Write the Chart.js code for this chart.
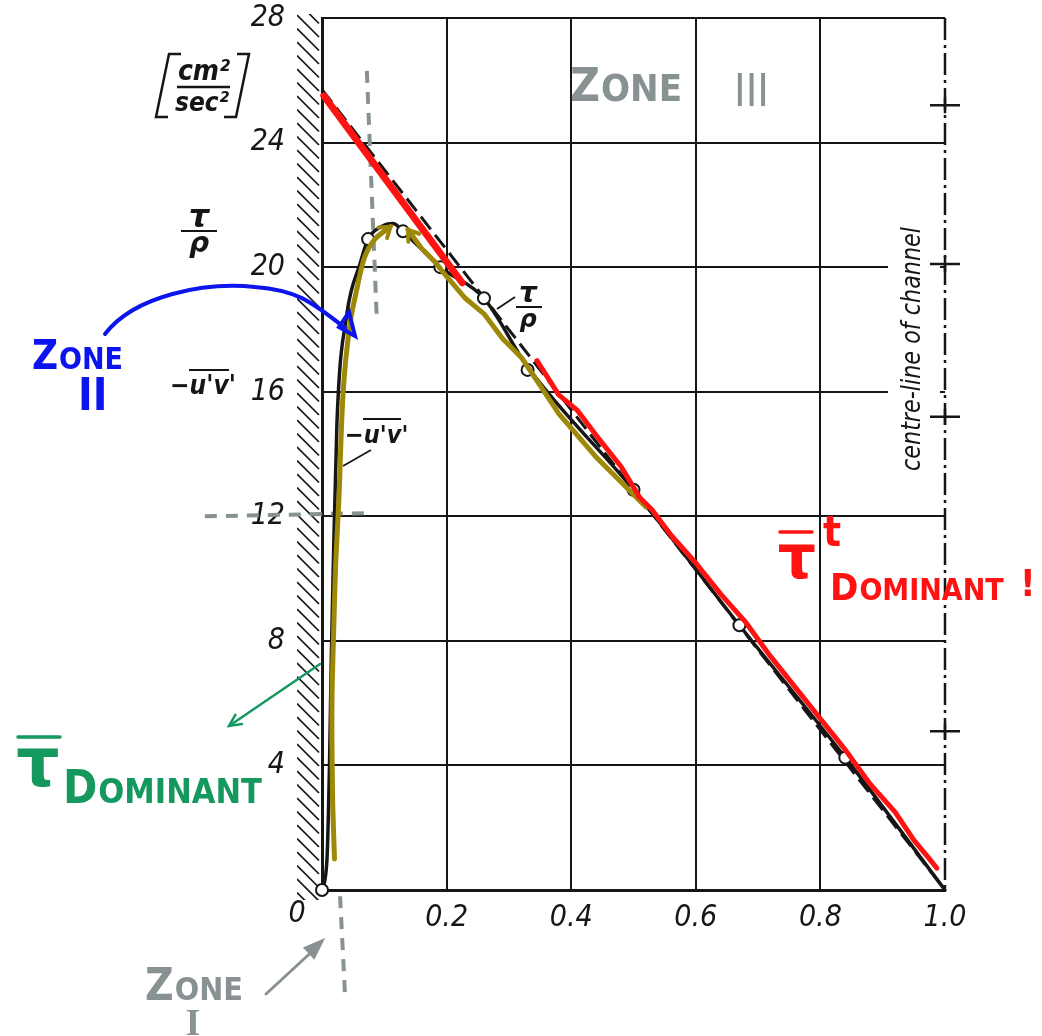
<!DOCTYPE html>
<html>
<head>
<meta charset="utf-8">
<title>Shear stress across the channel</title>
<script src="https://cdn.jsdelivr.net/npm/chart.js@4.4.1/dist/chart.umd.min.js"></script>
<style>
  html, body { margin: 0; padding: 0; background: #fff; }
  #wrap { width: 1042px; height: 1036px; }
</style>
</head>
<body>
<div id="wrap"><canvas id="stressChart" width="1042" height="1036"></canvas></div>
<script>
// --- axis ticks ---
const xTicks = [0, 0.2, 0.4, 0.6, 0.8, 1.0];
const yTicks = [0, 4, 8, 12, 16, 20, 24, 28];

// --- measured points (open circles) ---
const pointsX = [0, 0.074, 0.13, 0.19, 0.26, 0.33, 0.5, 0.67, 0.84];
const pointsY = [0, 20.9, 21.15, 20.0, 19.0, 16.7, 12.85, 8.5, 4.25];

// --- turbulent stress -u'v' ---
const uvX = [0, 0.008, 0.012, 0.015, 0.018, 0.024, 0.04, 0.061, 0.074, 0.095, 0.114, 0.13, 0.19, 0.26, 0.33, 0.5, 0.67, 0.84, 1.0];
const uvY = [0, 1.0, 4.0, 7.5, 10.3, 15.0, 18.5, 20.1, 20.9, 21.3, 21.4, 21.15, 20.0, 19.0, 16.8, 12.85, 8.5, 4.25, 0];

// --- total stress tau/rho (straight line) ---
const tauX = [0, 1.0];
const tauY = [25.7, 0];

// --- hand-drawn markings ---
const redAX = [0.003, 0.225];
const redAY = [25.5, 19.5];
const redBX = [0.345, 0.38, 0.41, 0.44, 0.48, 0.51, 0.53, 0.56, 0.6, 0.64, 0.68, 0.72, 0.76, 0.8, 0.84, 0.88, 0.92, 0.95, 0.975, 0.987];
const redBY = [17.0, 15.9, 15.4, 14.6, 13.6, 12.6, 12.2, 11.4, 10.5, 9.5, 8.6, 7.5, 6.5, 5.5, 4.5, 3.4, 2.5, 1.6, 1.0, 0.7];
const oliveAX = [0.02, 0.017, 0.016, 0.019, 0.022, 0.027, 0.034, 0.045, 0.056, 0.068, 0.085, 0.11];
const oliveAY = [1.0, 3.0, 6.0, 8.5, 10.5, 12.5, 16.0, 18.2, 19.3, 20.3, 20.9, 21.3];
const oliveBX = [0.138, 0.16, 0.18, 0.2, 0.23, 0.26, 0.29, 0.32, 0.35, 0.38, 0.41, 0.44, 0.47, 0.5, 0.52];
const oliveBY = [21.2, 20.6, 20.2, 19.7, 19.0, 18.5, 17.7, 17.1, 16.2, 15.3, 14.6, 13.9, 13.3, 12.7, 12.3];
const greyTopX = [0.072, 0.088];
const greyTopY = [26.3, 18.3];
const greyMidX = [-0.188, 0.069];
const greyMidY = [12.0, 12.1];
const greyLowX = [0.029, 0.037];
const greyLowY = [-0.2, -3.4];

// centre-line cross marks
const crossY = [25.2, 20.1, 15.2, 5.1];

const INK = '#161616';
const RED = '#ff1212';
const OLIVE = '#9d8807';
const GREY = '#889292';
const BLUE = '#0c14ee';
const GREEN = '#14985e';
const NARROW = '"Liberation Sans Narrow", "DejaVu Sans Condensed", sans-serif';

const chartEl = document.getElementById('stressChart');

const toPts = (xs, ys) => xs.map((x, i) => ({ x, y: ys[i] }));

const lineSet = (label, xs, ys, color, width, extra) => Object.assign({
    label,
    data: toPts(xs, ys),
    showLine: true,
    borderColor: color,
    borderWidth: width,
    pointRadius: 0,
    pointHoverRadius: 0,
    fill: false,
    tension: 0,
    clip: false,
    borderCapStyle: 'round',
    borderJoinStyle: 'round'
}, extra || {});

function txt(ctx, s, x, y, font, color, align) {
    ctx.font = font;
    ctx.fillStyle = color;
    ctx.textAlign = align || 'left';
    ctx.textBaseline = 'alphabetic';
    ctx.fillText(s, x, y);
    return ctx.measureText(s).width;
}

// hand lettering: first letter tall, the rest smaller
function caps(ctx, s, x, y, big, small, color) {
    const w = txt(ctx, s[0], x, y, `bold ${big}px ${NARROW}`, color);
    return w + txt(ctx, s.slice(1), x + w + 1, y, `bold ${small}px ${NARROW}`, color);
}

function head(ctx, x1, y1, x2, y2, len, spread, filled) {
    const a = Math.atan2(y2 - y1, x2 - x1);
    ctx.beginPath();
    ctx.moveTo(x2 - len * Math.cos(a - spread), y2 - len * Math.sin(a - spread));
    ctx.lineTo(x2, y2);
    ctx.lineTo(x2 - len * Math.cos(a + spread), y2 - len * Math.sin(a + spread));
    if (filled) { ctx.closePath(); ctx.fill(); }
    ctx.stroke();
}

function overline(ctx, x1, x2, y) {
    ctx.beginPath();
    ctx.moveTo(x1, y);
    ctx.lineTo(x2, y);
    ctx.stroke();
}

const decor = {
    id: 'decor',
    beforeDatasetsDraw(chart) {
        const { ctx, chartArea: a, scales: { x, y } } = chart;
        ctx.save();

        // hatched channel wall left of the y axis
        ctx.save();
        ctx.beginPath();
        ctx.rect(a.left - 25, a.top - 4, 24, a.bottom - a.top + 14);
        ctx.clip();
        ctx.strokeStyle = INK;
        ctx.lineWidth = 1.7;
        for (let yy = a.top - 30; yy < a.bottom + 20; yy += 13.5) {
            ctx.beginPath();
            ctx.moveTo(a.left - 25, yy);
            ctx.lineTo(a.left - 3, yy + 22);
            ctx.stroke();
        }
        ctx.restore();

        // gap in the grid for the centre-line caption
        ctx.fillStyle = '#fff';
        ctx.fillRect(888, 222, 52, 256);

        // centre-line of channel, dash-dot with cross marks
        const cx = x.getPixelForValue(1);
        ctx.strokeStyle = INK;
        ctx.lineWidth = 2.5;
        ctx.setLineDash([22, 5, 3, 5]);
        ctx.beginPath();
        ctx.moveTo(cx, a.top);
        ctx.lineTo(cx, a.bottom);
        ctx.stroke();
        ctx.setLineDash([]);
        crossY.forEach(v => {
            const py = y.getPixelForValue(v);
            ctx.beginPath();
            ctx.moveTo(cx - 15, py);
            ctx.lineTo(cx + 15, py);
            ctx.moveTo(cx, py - 8);
            ctx.lineTo(cx, py + 8);
            ctx.stroke();
        });
        ctx.restore();
    },
    afterDraw(chart) {
        const { ctx, scales: { x, y } } = chart;
        ctx.save();

        // origin label
        txt(ctx, '0', 297, 922, `italic 30px ${NARROW}`, INK, 'center');

        // unit bracket [cm²/sec²]
        ctx.strokeStyle = INK;
        ctx.lineWidth = 2.5;
        ctx.beginPath();
        ctx.moveTo(181, 54); ctx.lineTo(169, 54); ctx.lineTo(156, 117); ctx.lineTo(168, 117);
        ctx.moveTo(237, 54); ctx.lineTo(249, 54); ctx.lineTo(236, 117); ctx.lineTo(224, 117);
        ctx.stroke();
        txt(ctx, 'cm²', 204, 80, `italic bold 28px ${NARROW}`, INK, 'center');
        overline(ctx, 177, 230, 87);
        txt(ctx, 'sec²', 202, 111, `italic bold 26px ${NARROW}`, INK, 'center');

        // tau/rho beside the axis
        txt(ctx, 'τ', 199, 227, `italic bold 32px "DejaVu Sans", sans-serif`, INK, 'center');
        ctx.lineWidth = 2;
        overline(ctx, 181, 217, 231);
        txt(ctx, 'ρ', 199, 252, `italic bold 28px "DejaVu Sans", sans-serif`, INK, 'center');

        // -u'v' beside the axis
        txt(ctx, "−u'v'", 170, 394, `italic bold 26px ${NARROW}`, INK);
        overline(ctx, 189, 229, 370);

        // -u'v' on the curve, with leader
        txt(ctx, "−u'v'", 345, 443, `italic bold 25px ${NARROW}`, INK);
        overline(ctx, 363, 401, 419);
        ctx.lineWidth = 1.8;
        ctx.beginPath(); ctx.moveTo(343, 466); ctx.lineTo(371, 450); ctx.stroke();

        // tau/rho on the straight line, with leader
        txt(ctx, 'τ', 528, 302, `italic bold 28px "DejaVu Sans", sans-serif`, INK, 'center');
        ctx.lineWidth = 2;
        overline(ctx, 516, 542, 307);
        txt(ctx, 'ρ', 528, 327, `italic bold 24px "DejaVu Sans", sans-serif`, INK, 'center');
        ctx.lineWidth = 1.8;
        ctx.beginPath(); ctx.moveTo(497, 309); ctx.lineTo(515, 297); ctx.stroke();

        // centre-line caption, rotated
        ctx.save();
        ctx.translate(920, 349);
        ctx.rotate(-Math.PI / 2);
        ctx.font = `italic 26px ${NARROW}`;
        const cw = ctx.measureText('centre-line of channel').width;
        ctx.scale(244 / cw, 1);
        txt(ctx, 'centre-line of channel', 0, 0, `italic 26px ${NARROW}`, INK, 'center');
        ctx.restore();

        // arrowheads on the olive strokes
        ctx.strokeStyle = OLIVE;
        ctx.fillStyle = OLIVE;
        ctx.lineWidth = 4;
        ctx.lineCap = 'round';
        const n = oliveAX.length - 1;
        head(ctx, x.getPixelForValue(oliveAX[n - 1]), y.getPixelForValue(oliveAY[n - 1]),
            x.getPixelForValue(oliveAX[n]), y.getPixelForValue(oliveAY[n]), 12, 0.6, false);
        head(ctx, x.getPixelForValue(oliveBX[1]), y.getPixelForValue(oliveBY[1]),
            x.getPixelForValue(oliveBX[0]), y.getPixelForValue(oliveBY[0]), 12, 0.6, false);

        // ZONE III
        caps(ctx, 'ZONE', 570, 101, 46, 38, GREY);
        txt(ctx, 'III', 734, 106, `44px ${NARROW}`, GREY);

        // ZONE II with curved arrow
        caps(ctx, 'ZONE', 32, 369, 40, 30, BLUE);
        txt(ctx, 'II', 78, 410, `bold 44px ${NARROW}`, BLUE);
        ctx.strokeStyle = BLUE;
        ctx.lineWidth = 4;
        ctx.beginPath();
        ctx.moveTo(105, 334);
        ctx.bezierCurveTo(135, 295, 205, 282, 255, 287);
        ctx.bezierCurveTo(295, 290, 310, 300, 345, 328);
        ctx.stroke();
        ctx.beginPath();
        ctx.moveTo(339, 327); ctx.lineTo(349, 312); ctx.lineTo(355, 336); ctx.closePath();
        ctx.stroke();

        // tau-bar dominant (green)
        ctx.strokeStyle = GREEN;
        ctx.lineWidth = 3.5;
        overline(ctx, 18, 60, 737);
        txt(ctx, 'τ', 38, 786, `bold 68px "DejaVu Sans", sans-serif`, GREEN, 'center');
        caps(ctx, 'DOMINANT', 63, 803, 46, 34, GREEN);
        ctx.lineWidth = 2.5;
        ctx.beginPath(); ctx.moveTo(320, 664); ctx.lineTo(229, 726); ctx.stroke();
        head(ctx, 320, 664, 229, 726, 13, 0.45, false);

        // tau-bar^t dominant (red)
        ctx.strokeStyle = RED;
        ctx.lineWidth = 3.5;
        overline(ctx, 780, 812, 532);
        txt(ctx, 'τ', 797, 578, `bold 60px "DejaVu Sans", sans-serif`, RED, 'center');
        txt(ctx, 't', 823, 546, `bold 42px ${NARROW}`, RED);
        caps(ctx, 'DOMINANT', 830, 600, 38, 30, RED);
        txt(ctx, '!', 1020, 596, `bold 38px ${NARROW}`, RED);

        // ZONE I with arrow
        caps(ctx, 'ZONE', 145, 1000, 44, 32, GREY);
        txt(ctx, 'I', 193, 1035, `bold 38px "Liberation Serif", serif`, GREY, 'center');
        ctx.strokeStyle = GREY;
        ctx.fillStyle = GREY;
        ctx.lineWidth = 3;
        ctx.beginPath(); ctx.moveTo(266, 994); ctx.lineTo(318, 946); ctx.stroke();
        head(ctx, 266, 994, 322, 941, 18, 0.35, true);

        ctx.restore();
    }
};

new Chart(chartEl, {
    type: 'scatter',
    data: {
        datasets: [
            lineSet('red wall line', redAX, redAY, RED, 7),
            lineSet('red core line', redBX, redBY, RED, 5),
            lineSet('olive rise', oliveAX, oliveAY, OLIVE, 5, { tension: 0.3 }),
            lineSet('olive fall', oliveBX, oliveBY, OLIVE, 5),
            {
                label: 'measured',
                data: toPts(pointsX, pointsY),
                showLine: false,
                pointRadius: 6,
                pointBackgroundColor: '#fff',
                pointBorderColor: INK,
                pointBorderWidth: 2,
                clip: false
            },
            lineSet("-u'v'", uvX, uvY, INK, 3.5, { cubicInterpolationMode: 'monotone' }),
            lineSet('tau/rho', tauX, tauY, INK, 3, { borderDash: [16, 7], borderCapStyle: 'butt' }),
            lineSet('zone II/III', greyTopX, greyTopY, GREY, 4, { borderDash: [12, 9], borderCapStyle: 'butt' }),
            lineSet('y = 12 mark', greyMidX, greyMidY, GREY, 4, { borderDash: [12, 9], borderCapStyle: 'butt' }),
            lineSet('zone I/II', greyLowX, greyLowY, GREY, 4, { borderDash: [12, 9], borderCapStyle: 'butt' })
        ]
    },
    options: {
        responsive: false,
        animation: false,
        events: [],
        layout: { padding: { left: 0, right: 97, top: 18, bottom: 0 } },
        plugins: {
            legend: { display: false },
            tooltip: { enabled: false }
        },
        scales: {
            x: {
                type: 'linear',
                min: 0,
                max: 1,
                afterBuildTicks: s => { s.ticks = xTicks.map(v => ({ value: v })); },
                afterFit: s => {
                    s.height = 146;
                    s.paddingLeft = 0;
                    s.paddingRight = 0;
                },
                grid: {
                    color: c => (c.tick && c.tick.value === 1 ? 'rgba(0,0,0,0)' : INK),
                    lineWidth: 2,
                    drawTicks: false
                },
                border: { color: INK, width: 3 },
                ticks: {
                    padding: 10,
                    color: INK,
                    font: { family: NARROW, size: 30, style: 'italic' },
                    callback: v => (v === 0 ? '' : v.toFixed(1))
                }
            },
            y: {
                type: 'linear',
                min: 0,
                max: 28,
                afterBuildTicks: s => { s.ticks = yTicks.map(v => ({ value: v })); },
                afterFit: s => {
                    s.width = 322;
                    s.paddingTop = 0;
                    s.paddingBottom = 0;
                },
                grid: { color: INK, lineWidth: 2, drawTicks: false },
                border: { color: INK, width: 3 },
                ticks: {
                    padding: 37,
                    color: INK,
                    font: { family: NARROW, size: 30, style: 'italic' },
                    callback: v => (v === 0 ? '' : String(v))
                }
            }
        }
    },
    plugins: [decor]
});
</script>
</body>
</html>
